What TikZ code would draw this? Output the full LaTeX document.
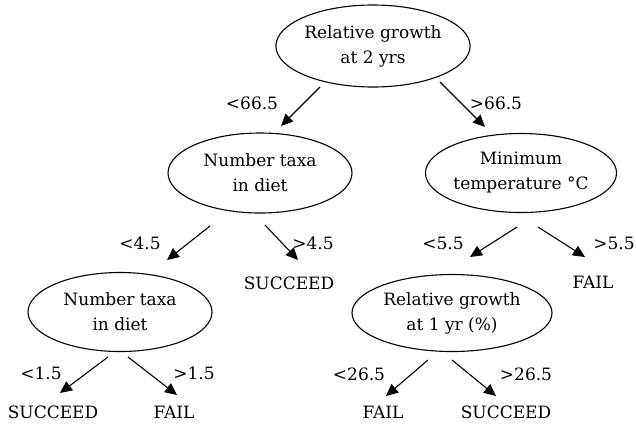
\documentclass[tikz,border=0pt]{standalone}
\usepackage{fontspec}
\setmainfont{DejaVu Serif}
\usetikzlibrary{arrows.meta,calc,shapes.geometric}
\begin{document}
\begin{tikzpicture}[x=1pt,y=-1pt,
  split/.style={ellipse,draw,line width=1.1pt,inner sep=0pt,align=center,font=\fontsize{17}{25}\selectfont},
  leaf/.style={inner sep=0pt,font=\fontsize{17}{20}\selectfont},
  cond/.style={inner sep=0pt,font=\fontsize{17}{20}\selectfont},
  arr/.style={line width=1.1pt,-{Triangle[length=12pt,width=11pt]}}]
\useasboundingbox (0,0) rectangle (636,424);

% decision nodes
\node[split,minimum width=183pt,minimum height=82pt] (root) at (373,46) {Relative growth\\at 2 yrs};
\node[split,minimum width=184pt,minimum height=80pt] (taxaA) at (260,173) {Number taxa\\in diet};
\node[split,minimum width=176pt,minimum height=79pt] (temp) at (521,173) {Minimum\\temperature °C};
\node[split,minimum width=184pt,minimum height=79pt] (taxaB) at (120,312) {Number taxa\\in diet};
\node[split,minimum width=200pt,minimum height=77pt] (grow) at (452,313) {Relative growth\\at 1 yr (\%)};

% outcomes
\node[leaf] (l1) at (289,283) {SUCCEED};
\node[leaf] (l2) at (593,282) {FAIL};
\node[leaf] (l3) at (53,412) {SUCCEED};
\node[leaf] (l4) at (174,412) {FAIL};
\node[leaf] (l5) at (383,412) {FAIL};
\node[leaf] (l6) at (506,412) {SUCCEED};

% branch conditions
\node[cond] (c1) at (252,103) {<66.5};
\node[cond] (c2) at (496,103) {>66.5};
\node[cond] (c3) at (140,243) {<4.5};
\node[cond] (c4) at (313,243) {>4.5};
\node[cond] (c5) at (443,243) {<5.5};
\node[cond] (c6) at (614,243) {>5.5};
\node[cond] (c7) at (41,373) {<1.5};
\node[cond] (c8) at (194,373) {>1.5};
\node[cond] (c9) at (359,374) {<26.5};
\node[cond] (c10) at (526,374) {>26.5};

% branches
\draw[arr] ($(root)+(-53,41)$) -- ($(taxaA)+(21,-47)$);
\draw[arr] ($(root)+(67,36)$) -- ($(temp)+(-36,-46)$);
\draw[arr] ($(taxaA)+(-50,53)$) -- ($(taxaB)+(47,-52)$);
\draw[arr] ($(taxaA)+(5,52)$) -- ($(l1)+(9,-23)$);
\draw[arr] ($(temp)+(-4,54)$) -- ($(grow)+(18,-56)$);
\draw[arr] ($(temp)+(17,54)$) -- ($(l2)+(-8,-25)$);
\draw[arr] ($(taxaB)+(-12,45)$) -- ($(l3)+(7,-19)$);
\draw[arr] ($(taxaB)+(8,45)$) -- ($(l4)+(3,-17)$);
\draw[arr] ($(grow)+(-24,47)$) -- ($(l5)+(3,-16)$);
\draw[arr] ($(grow)+(0,47)$) -- ($(l6)+(-10,-16)$);
\end{tikzpicture}
\end{document}
